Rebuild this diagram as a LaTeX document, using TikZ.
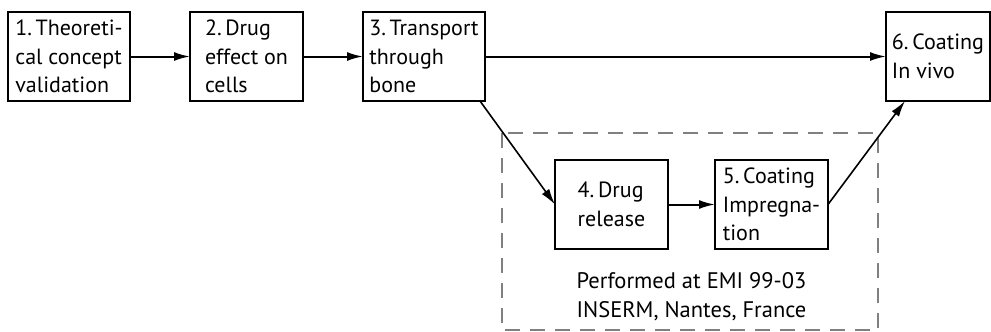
\documentclass[tikz,border=0pt]{standalone}
\usepackage{fontspec}
\setmainfont{PT Sans}
\usetikzlibrary{positioning,arrows.meta,calc}

\begin{document}
\begin{tikzpicture}[
  x=1pt, y=-1pt,
  node distance=60pt,
  blk/.style={draw, line width=2pt, outer sep=0pt, minimum height=89pt, inner xsep=1pt, inner ysep=2pt,
              align=left, font=\fontsize{22}{28.5}\selectfont},
  wide/.style={blk, minimum width=122pt},
  narrow/.style={blk, minimum width=113pt},
  frame/.style={draw=gray, line width=1.6pt, dash pattern=on 15pt off 10pt},
  ar/.style={-{Latex[length=16pt,width=9pt]}, line width=2pt},
  diag/.style={ar, line width=1.6pt}
]
\useasboundingbox (0,0) rectangle (991,332);
\node[wide] (concept) at (69,56.5) {1.\,Theoreti-\\cal concept\\validation};
\node[narrow, right=of concept] (effect) {2.\,Drug\\effect on\\cells};
\node[wide, right=of effect] (bone) {3.\,Transport\\through\\bone};
\node[blk, minimum width=104pt, right=401pt of bone] (invivo) {6.\,Coating\\In vivo};
\node[narrow, below right=59pt and 70pt of bone] (release) {4.\,Drug\\release};
\node[narrow, right=47pt of release] (impreg) {5.\,Coating\\Impregna-\\tion};
% site of steps 4 and 5
\draw[frame] (502,133) rectangle (878,330);
\node[align=center, font=\fontsize{22.5}{28.5}\selectfont, below=20pt of {$(release.south)!0.5!(impreg.south)$}] (site)
  {Performed at EMI 99-03\\INSERM, Nantes, France};
\draw[ar] (concept) -- (effect);
\draw[ar] (effect) -- (bone);
\draw[ar] (bone) -- (invivo);
\draw[diag] ([xshift=-5pt]bone.south east) -- (release.west);
\draw[ar] (release) -- (impreg);
\draw[diag] (impreg.east) -- (invivo);
\end{tikzpicture}
\end{document}
